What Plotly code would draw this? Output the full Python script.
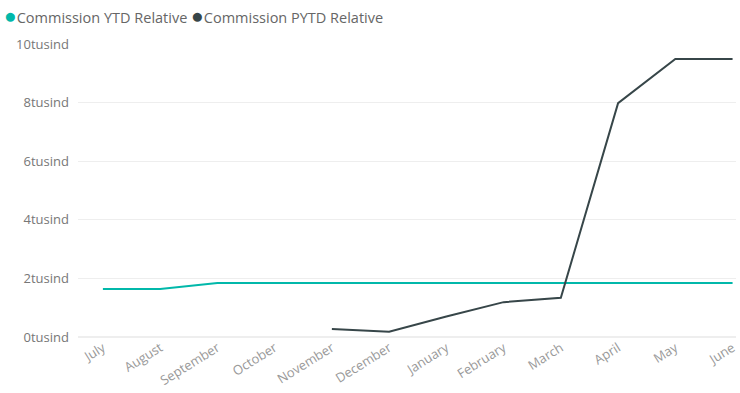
import plotly.graph_objects as go

months = ["July", "August", "September", "October", "November", "December",
          "January", "February", "March", "April", "May", "June"]
ytd = [1640, 1640, 1840, 1840, 1840, 1840, 1840, 1840, 1840, 1840, 1840, 1840]
pytd = [None, None, None, None, 270, 180, 700, 1190, 1340, 7980, 9490, 9490]
y_ticks = [0, 2000, 4000, 6000, 8000, 10000]
y_tick_labels = ["0tusind", "2tusind", "4tusind", "6tusind", "8tusind", "10tusind"]
series_names = ["Commission YTD Relative", "Commission PYTD Relative"]

TEAL = "#01B8AA"
DARK = "#374649"
FONT = "Segoe UI, Open Sans, sans-serif"

fig = go.Figure()
fig.add_trace(go.Scatter(x=months, y=ytd, mode="lines", line=dict(color=TEAL, width=2),
                         showlegend=False, name=series_names[0]))
fig.add_trace(go.Scatter(x=months, y=pytd, mode="lines", line=dict(color=DARK, width=2),
                         showlegend=False, name=series_names[1]))

legend_text = (f"<span style='color:{TEAL};font-size:21px'>●</span>{series_names[0]} "
               f"<span style='color:{DARK};font-size:21px'>●</span>{series_names[1]}")
fig.add_annotation(text=legend_text, xref="paper", yref="paper", x=-0.116, y=1.0,
                   xanchor="left", yanchor="bottom", yshift=13, showarrow=False,
                   font=dict(size=14.5, color="#666666", family=FONT), align="left")

fig.update_layout(
    width=740, height=393,
    margin=dict(l=78, r=2, t=44, b=56),
    paper_bgcolor="white", plot_bgcolor="white",
    font=dict(family=FONT, size=13, color="#777777"),
    showlegend=False,
    xaxis=dict(type="category", categoryorder="array", categoryarray=months,
               range=[-0.435, 11.06], showgrid=False, zeroline=False, showline=False,
               tickangle=-32, ticks="", tickfont=dict(size=13, color="#999999")),
    yaxis=dict(range=[0, 10000], tickvals=y_ticks, ticktext=y_tick_labels,
               showgrid=True, gridcolor="#EEEEEE", gridwidth=1, zeroline=True,
               zerolinecolor="#EEEEEE", showline=False, ticks="",
               ticklabelstandoff=8, tickfont=dict(size=13, color="#777777")),
)

fig.write_html("out.html")
